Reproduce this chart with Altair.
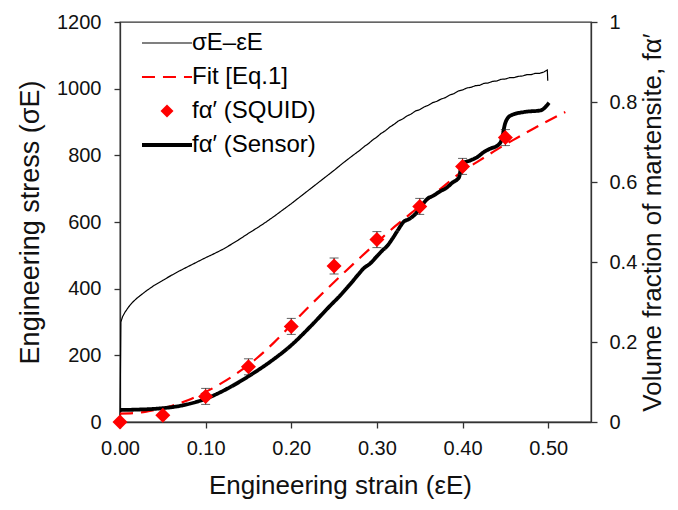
import altair as alt
import pandas as pd

# ---------------- data ----------------
series_names = ["σE–εE", "Fit [Eq.1]", "fα′ (SQUID)", "fα′ (Sensor)"]

# engineering stress-strain curve (left axis)
ss_strain = [0.000, 0.0005, 0.001, 0.003, 0.006, 0.010, 0.015, 0.020, 0.030, 0.040,
             0.050, 0.060, 0.070, 0.080, 0.090, 0.100, 0.110, 0.120, 0.130, 0.140,
             0.150, 0.160, 0.170, 0.180, 0.190, 0.200, 0.210, 0.220, 0.230, 0.240,
             0.250, 0.260, 0.270, 0.280, 0.285, 0.290, 0.295, 0.300, 0.305, 0.310,
             0.315, 0.320, 0.325, 0.330, 0.335, 0.340, 0.345, 0.350, 0.355, 0.360,
             0.365, 0.370, 0.375, 0.380, 0.385, 0.390, 0.395, 0.400, 0.405, 0.410,
             0.415, 0.420, 0.425, 0.430, 0.435, 0.440, 0.445, 0.450, 0.455, 0.460,
             0.465, 0.470, 0.475, 0.480, 0.485, 0.490, 0.495, 0.499, 0.4995]
ss_stress = [0, 150, 300, 316, 330, 345, 360, 372, 392, 410,
             425, 440, 454, 467, 480, 493, 505, 518, 533, 549,
             566, 582, 599, 617, 636, 655, 675, 695, 715, 735,
             755, 776, 796, 815, 826, 835, 846, 855, 866, 874,
             885, 893, 903, 909, 918, 924, 933, 937, 945, 950,
             958, 962, 969, 973, 981, 985, 993, 996, 1002, 1004,
             1009, 1010, 1016, 1017, 1022, 1023, 1028, 1029, 1033, 1033,
             1037, 1038, 1042, 1042, 1046, 1046, 1050, 1056, 1024]

# fit [Eq.1] (right axis)
fit_strain = [0.00, 0.02, 0.04, 0.06, 0.08, 0.10, 0.12, 0.14, 0.16, 0.18, 0.20, 0.22, 0.24,
              0.26, 0.28, 0.30, 0.32, 0.34, 0.36, 0.38, 0.40, 0.42, 0.44, 0.46, 0.48, 0.50, 0.52]
fit_frac = [0.021, 0.023, 0.030, 0.040, 0.055, 0.075, 0.099, 0.127, 0.160, 0.199, 0.243, 0.287, 0.329,
            0.370, 0.410, 0.449, 0.487, 0.522, 0.557, 0.593, 0.627, 0.654, 0.681, 0.706, 0.730, 0.753, 0.775]

# SQUID measurements (right axis)
squid_strain = [0.00, 0.05, 0.10, 0.15, 0.20, 0.25, 0.30, 0.35, 0.40, 0.45]
squid_frac = [0.000, 0.017, 0.064, 0.138, 0.239, 0.390, 0.456, 0.539, 0.639, 0.711]
squid_err = [0.0, 0.0, 0.02, 0.02, 0.02, 0.02, 0.02, 0.02, 0.02, 0.02]

# sensor curve (right axis)
sensor_strain = [0.000, 0.020, 0.047, 0.074, 0.100, 0.125, 0.152, 0.175, 0.200, 0.222,
                 0.246, 0.257, 0.269, 0.278, 0.285, 0.292, 0.299, 0.306, 0.312, 0.318,
                 0.324, 0.331, 0.338, 0.345, 0.352, 0.359, 0.366, 0.374, 0.381, 0.388,
                 0.396, 0.399, 0.409, 0.417, 0.425, 0.433, 0.440, 0.445, 0.450, 0.456,
                 0.472, 0.491, 0.501]
sensor_frac = [0.030, 0.031, 0.034, 0.042, 0.058, 0.083, 0.117, 0.150, 0.192, 0.238,
               0.292, 0.316, 0.345, 0.368, 0.385, 0.396, 0.412, 0.428, 0.440, 0.458,
               0.478, 0.500, 0.508, 0.520, 0.540, 0.558, 0.566, 0.577, 0.585, 0.598,
               0.612, 0.645, 0.654, 0.662, 0.675, 0.684, 0.690, 0.702, 0.748, 0.766,
               0.775, 0.779, 0.798]

x_ticks = [0.0, 0.1, 0.2, 0.3, 0.4, 0.5]
left_ticks = [0, 200, 400, 600, 800, 1000, 1200]
right_ticks = [0, 0.2, 0.4, 0.6, 0.8, 1.0]

# ---------------- tables ----------------
df_ss = pd.DataFrame({"strain": ss_strain, "val": ss_stress, "series": series_names[0],
                      "ord": list(range(len(ss_strain)))})
df_fit = pd.DataFrame({"strain": fit_strain, "val": fit_frac, "series": series_names[1]})
df_sq = pd.DataFrame({"strain": squid_strain, "val": squid_frac, "series": series_names[2],
                      "lo": [v - e for v, e in zip(squid_frac, squid_err)],
                      "hi": [v + e for v, e in zip(squid_frac, squid_err)],
                      "err": squid_err})
df_sen = pd.DataFrame({"strain": sensor_strain, "val": sensor_frac, "series": series_names[3]})

FONT = "Liberation Sans"
LINE_PATH = "M-3.85,0L3.85,0"

legend = alt.Legend(title=None, orient="none", legendX=35, legendY=9,
                    labelFont=FONT, labelFontSize=24, labelColor="#000",
                    symbolSize=169, rowPadding=10, labelOffset=13, labelLimit=400,
                    padding=0)

color = alt.Color("series:N", scale=alt.Scale(domain=series_names,
                  range=["#000000", "#ff0000", "#ff0000", "#000000"]), legend=legend)
dash = alt.StrokeDash("series:N", scale=alt.Scale(domain=series_names,
                      range=[[1, 0], [13, 8], [1, 0], [1, 0]]), legend=legend)
swidth = alt.StrokeWidth("series:N", scale=alt.Scale(type="ordinal", domain=series_names,
                         range=[1.2, 2.2, 0, 3.8]), legend=legend)
shape = alt.Shape("series:N", scale=alt.Scale(domain=series_names,
                  range=[LINE_PATH, LINE_PATH, "diamond", LINE_PATH]), legend=legend)

xscale = alt.Scale(domain=[0, 0.55], nice=False, zero=False, padding=0)
x_axis_def = alt.Axis(values=x_ticks, format=".2f", titleX=220, titleY=71,
                      titleBaseline="alphabetic", titleAlign="center", labelPadding=10,
                      labelFlush=False, titleFontSize=26)
X_TITLE = "Engineering strain (εE)"


def xenc():
    return alt.X("strain:Q", scale=xscale, title=X_TITLE, axis=x_axis_def)


yl_scale = alt.Scale(domain=[0, 1200], nice=False, padding=0)
yr_scale = alt.Scale(domain=[0, 1], nice=False, padding=0)
R_TITLE = "Volume fraction of martensite, fα′"
r_axis_def = alt.Axis(orient="right", values=right_ticks, format="~g",
                      labelPadding=12, titleAngle=270, titleX=61, titleY=200,
                      titleBaseline="middle", titleAlign="center", labelFlush=False,
                      titleFontSize=26)


def yrenc(field):
    return alt.Y(field, scale=yr_scale, title=R_TITLE, axis=r_axis_def)


stress = alt.Chart(df_ss).mark_line(interpolate="linear").encode(
    x=xenc(),
    y=alt.Y("val:Q", scale=yl_scale, title="Engineering stress (σE)",
            axis=alt.Axis(orient="left", values=left_ticks, format="d",
                          labelPadding=13, titleAngle=270, titleX=-90, titleY=200,
                          titleBaseline="middle", titleAlign="center", labelFlush=False)),
    order="ord:Q",
    color=color, strokeDash=dash, strokeWidth=swidth,
)

fit = alt.Chart(df_fit).mark_line(interpolate="monotone").encode(
    x=xenc(), y=yrenc("val:Q"),
    color=color, strokeDash=dash, strokeWidth=swidth,
)

sensor = alt.Chart(df_sen).mark_line(interpolate="monotone").encode(
    x=xenc(), y=yrenc("val:Q"),
    color=color, strokeDash=dash, strokeWidth=swidth,
)

sq_base = alt.Chart(df_sq).transform_filter("datum.err > 0")
err_rule = sq_base.mark_rule(color="#222", strokeWidth=1).encode(
    x=xenc(), y=yrenc("lo:Q"), y2="hi:Q",
)
cap_lo = sq_base.mark_tick(orient="horizontal", size=9, thickness=1, color="#222").encode(
    x=xenc(), y=yrenc("lo:Q"))
cap_hi = sq_base.mark_tick(orient="horizontal", size=9, thickness=1, color="#222").encode(
    x=xenc(), y=yrenc("hi:Q"))

points = alt.Chart(df_sq).mark_point(filled=True, size=225, opacity=1).encode(
    x=xenc(), y=yrenc("val:Q"),
    color=color, shape=shape,
)

right_group = alt.layer(fit, sensor, err_rule, cap_lo, cap_hi, points)

chart = alt.layer(stress, right_group).resolve_scale(y="independent").properties(
    width=471, height=400,
    autosize=alt.AutoSizeParams(type="none"),
    padding={"left": 112, "top": 14, "right": 79, "bottom": 80},
).configure_view(
    stroke="#333", strokeWidth=1.3,
).configure_axis(
    domainColor="#333", domainWidth=1.3, tickColor="#333", tickWidth=1.3, tickSize=6,
    grid=False, labelFont=FONT, labelFontSize=20, labelColor="#111",
    titleFont=FONT, titleFontSize=27, titleFontWeight="normal", titleColor="#111",
)

chart.save("out.html", embed_options={"renderer": "svg", "actions": False})
